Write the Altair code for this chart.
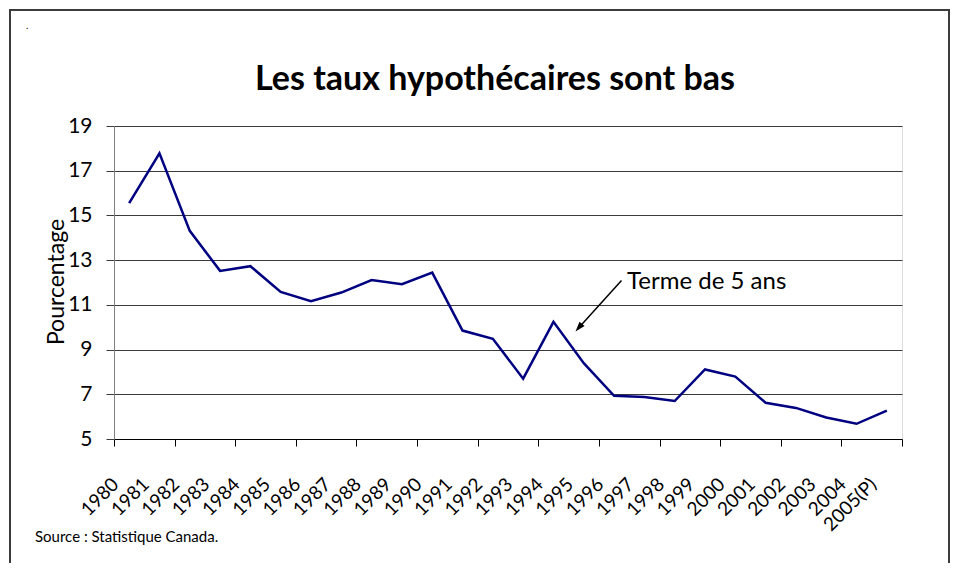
import altair as alt
import pandas as pd

# ---- data ----
years = ["1980", "1981", "1982", "1983", "1984", "1985", "1986", "1987", "1988",
         "1989", "1990", "1991", "1992", "1993", "1994", "1995", "1996", "1997",
         "1998", "1999", "2000", "2001", "2002", "2003", "2004", "2005(P)"]
rates = [15.55, 17.78, 14.31, 12.52, 12.73, 11.58, 11.16, 11.55, 12.11, 11.92,
         12.44, 9.85, 9.48, 7.70, 10.24, 8.39, 6.93, 6.88, 6.70, 8.11, 7.79,
         6.62, 6.39, 5.96, 5.68, 6.27]
y_ticks = [5, 7, 9, 11, 13, 15, 17, 19]
title_text = "Les taux hypothécaires sont bas"
y_title = "Pourcentage"
note_text = "Terme de 5 ans"
note_year_index = 16
note_value = 11.7
source_text = "Source : Statistique Canada."

FONT = "Lato"
W, H = 788, 313

df = pd.DataFrame({"idx": list(range(len(years))), "year": years, "rate": rates})

label_array = "[" + ",".join("'" + y + "'" for y in years) + "]"
label_expr = label_array + "[round(datum.value)]"
label_values = list(range(len(years)))
tick_values = [i - 0.5 for i in range(0, len(years) + 1, 2)]

x_scale = alt.Scale(domain=[-0.5, len(years) - 0.5], nice=False, zero=False)
y_scale = alt.Scale(domain=[5, 19], nice=False, zero=False)
y_axis = alt.Axis(
    values=y_ticks, grid=True, gridColor="#3a3a3a", gridWidth=1,
    domainColor="#808080", tickColor="#3a3a3a", tickSize=8,
    labelPadding=14, labelFontSize=21, labelFont=FONT, labelColor="black",
    title=None)


def y_enc():
    return alt.Y("rate:Q", scale=y_scale, axis=y_axis)


line = alt.Chart(df).mark_line(color="#000080", strokeWidth=2.5).encode(
    x=alt.X("idx:Q", scale=x_scale, axis=alt.Axis(
        orient="bottom", values=label_values, labelExpr=label_expr,
        labelAngle=315, labelAlign="right", labelBaseline="middle",
        labelOffset=-14, labelPadding=42, labelFontSize=19, labelFont=FONT,
        labelColor="black", labelOverlap=False, labelFlush=False,
        ticks=False, domainColor="black", grid=False, title=None)),
    y=y_enc(),
)

tick_layer = alt.Chart(df).mark_line(opacity=0).encode(
    x=alt.X("idx:Q", scale=x_scale, axis=alt.Axis(
        orient="bottom", values=tick_values, labels=False, ticks=True,
        tickSize=7, tickColor="black", domain=False, grid=False, title=None)),
    y=y_enc(),
)

one = pd.DataFrame({"k": [0]})

title = alt.Chart(pd.DataFrame({"t": [title_text]})).mark_text(
    font=FONT, fontSize=34, fontWeight="bold", align="center",
    baseline="alphabetic", color="black").encode(
    x=alt.value(381), y=alt.value(-36), text="t:N")

ytitle = alt.Chart(pd.DataFrame({"t": [y_title]})).mark_text(
    font=FONT, fontSize=23, angle=270, align="center",
    baseline="alphabetic", color="black").encode(
    x=alt.value(-50), y=alt.value(156), text="t:N")

note = alt.Chart(pd.DataFrame({"idx": [note_year_index], "rate": [note_value],
                               "t": [note_text]})).mark_text(
    font=FONT, fontSize=24, align="left", baseline="alphabetic", dx=13,
    color="black").encode(x=alt.X("idx:Q", scale=x_scale, axis=None),
                          y=y_enc(), text="t:N")

shaft = alt.Chart(one).mark_rule(color="black", strokeWidth=1.5).encode(
    x=alt.value(507.5), x2=alt.value(465), y=alt.value(154.5), y2=alt.value(201.5))

head = alt.Chart(one).mark_point(
    shape="M0,0 L0.8,2.4 L-0.8,2.4 Z", filled=True, color="black",
    opacity=1, size=70, angle=220.8).encode(
    x=alt.value(461.5), y=alt.value(205.5))

source = alt.Chart(pd.DataFrame({"t": [source_text]})).mark_text(
    font=FONT, fontSize=15, align="left", baseline="alphabetic",
    color="black").encode(x=alt.value(-79), y=alt.value(416), text="t:N")

dot = alt.Chart(pd.DataFrame({"t": ["."]})).mark_text(
    font=FONT, fontSize=10, align="left", baseline="alphabetic",
    color="black").encode(x=alt.value(-88), y=alt.value(-97), text="t:N")

border = alt.Chart(one).mark_rect(
    fill="transparent", stroke="#3c3c3c", strokeWidth=2).encode(
    x=alt.value(-104), x2=alt.value(835), y=alt.value(-116), y2=alt.value(470))

chart = alt.layer(border, line, tick_layer, title, ytitle, note, shaft, head,
                  source, dot).resolve_axis(x="independent").properties(
    width=W, height=H,
    autosize=alt.AutoSizeParams(type="none"),
    padding={"left": 106, "top": 118, "right": 48, "bottom": 124},
    background="white",
).configure_view(stroke="transparent", strokeWidth=0).configure(font=FONT)

chart.save("out.html", embed_options={"renderer": "svg", "actions": False})
